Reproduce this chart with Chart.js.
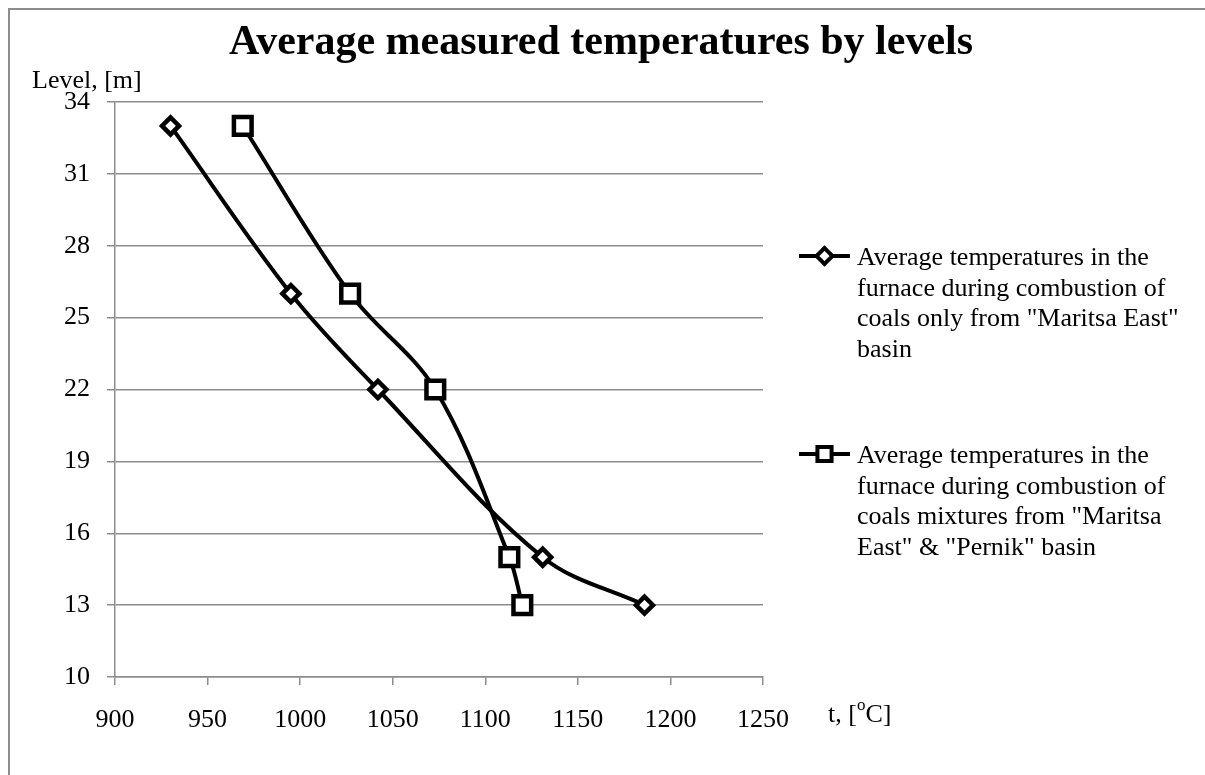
<!DOCTYPE html>
<html>
<head>
<meta charset="utf-8">
<title>Average measured temperatures by levels</title>
<script src="https://cdn.jsdelivr.net/npm/chart.js@4/dist/chart.umd.min.js"></script>
<style>
  html, body { margin: 0; padding: 0; background: #fff; overflow: hidden; }
  #wrap { position: relative; width: 1205px; height: 775px; }
</style>
</head>
<body>
<div id="wrap"><canvas id="tempChart"></canvas></div>
<script>
// Livelli (m) e temperature medie (°C)
const levels = [33, 26, 22, 15, 13];
const tempMaritsa = [930, 995, 1042, 1131, 1186];
const tempMixture = [969, 1027, 1073, 1113, 1120];

const xTicks = [900, 950, 1000, 1050, 1100, 1150, 1200, 1250];
const yTicks = [10, 13, 16, 19, 22, 25, 28, 31, 34];

const chartTitle = 'Average measured temperatures by levels';
const yTitle = 'Level, [m]';
const legendMaritsa = ['Average temperatures in the', 'furnace during combustion of', 'coals only from "Maritsa East"', 'basin'];
const legendMixture = ['Average temperatures in the', 'furnace during combustion of', 'coals mixtures from "Maritsa', 'East" & "Pernik" basin'];

const serif = "'Liberation Serif', 'Times New Roman', serif";
const gridColor = '#8c8c8c';

function toPoints(xs, ys) {
    return xs.map((x, i) => ({ x: x, y: ys[i] }));
}

// disegna un marker come fa Chart.js, con ripiego manuale
function marker(ctx, style, r, bw, x, y) {
    ctx.save();
    ctx.fillStyle = '#fff';
    ctx.strokeStyle = '#000';
    ctx.lineWidth = bw;
    if (Chart.helpers && Chart.helpers.drawPoint) {
        Chart.helpers.drawPoint(ctx, { pointStyle: style, radius: r, rotation: 0, borderWidth: bw }, x, y);
    } else {
        ctx.beginPath();
        if (style === 'rect') {
            const s = r * Math.SQRT1_2;
            ctx.rect(x - s, y - s, 2 * s, 2 * s);
        } else {
            ctx.moveTo(x - r, y); ctx.lineTo(x, y - r); ctx.lineTo(x + r, y); ctx.lineTo(x, y + r); ctx.closePath();
        }
        ctx.fill(); ctx.stroke();
    }
    ctx.restore();
}

const decorations = {
    id: 'decorations',
    beforeDraw(chart) {
        const ctx = chart.ctx;
        ctx.save();
        ctx.fillStyle = '#fff';
        ctx.fillRect(0, 0, chart.width, chart.height);
        ctx.strokeStyle = '#8c8c8c';
        ctx.lineWidth = 2;
        ctx.beginPath();
        ctx.moveTo(9, chart.height);
        ctx.lineTo(9, 9);
        ctx.lineTo(chart.width, 9);
        ctx.stroke();
        ctx.restore();
    },
    afterDraw(chart) {
        const ctx = chart.ctx;
        ctx.save();
        ctx.fillStyle = '#000';

        // titolo
        ctx.font = 'bold 42px ' + serif;
        ctx.textAlign = 'center';
        ctx.textBaseline = 'alphabetic';
        ctx.fillText(chartTitle, 601, 54);

        // titolo asse y
        ctx.font = '26px ' + serif;
        ctx.textAlign = 'left';
        ctx.textBaseline = 'middle';
        ctx.fillText(yTitle, 32, 81);

        // titolo asse x con "o" in apice
        let x = 828;
        const part1 = 't, [';
        ctx.fillText(part1, x, 715);
        x += ctx.measureText(part1).width;
        ctx.font = '17px ' + serif;
        ctx.fillText('o', x, 706);
        x += ctx.measureText('o').width;
        ctx.font = '26px ' + serif;
        ctx.fillText('C]', x, 715);

        // legenda
        const items = [
            { lines: legendMaritsa, style: 'rectRot', r: 8, bw: 4, y: 256 },
            { lines: legendMixture, style: 'rect', r: 10, bw: 4, y: 454 }
        ];
        items.forEach(item => {
            ctx.strokeStyle = '#000';
            ctx.lineWidth = 4;
            ctx.beginPath();
            ctx.moveTo(799, item.y);
            ctx.lineTo(850, item.y);
            ctx.stroke();
            marker(ctx, item.style, item.r, item.bw, 824.5, item.y);
            ctx.fillStyle = '#000';
            ctx.font = '26px ' + serif;
            ctx.textAlign = 'left';
            ctx.textBaseline = 'middle';
            item.lines.forEach((line, i) => {
                ctx.fillText(line, 857, item.y + 2 + i * 30.7);
            });
        });
        ctx.restore();
    }
};

const ctx = document.getElementById('tempChart').getContext('2d');
const chart = new Chart(ctx, {
    type: 'scatter',
    data: {
        datasets: [
            {
                label: legendMaritsa.join(' '),
                data: toPoints(tempMaritsa, levels),
                showLine: true,
                borderColor: '#000',
                borderWidth: 4,
                tension: 0.35,
                pointStyle: 'rectRot',
                pointRadius: 8.5,
                pointBorderWidth: 4.5,
                pointBackgroundColor: '#fff',
                pointBorderColor: '#000'
            },
            {
                label: legendMixture.join(' '),
                data: toPoints(tempMixture, levels),
                showLine: true,
                borderColor: '#000',
                borderWidth: 4,
                tension: 0.35,
                pointStyle: 'rect',
                pointRadius: 12.5,
                pointBorderWidth: 4.5,
                pointBackgroundColor: '#fff',
                pointBorderColor: '#000'
            }
        ]
    },
    options: {
        responsive: true,
        maintainAspectRatio: false,
        animation: false,
        layout: { padding: { left: 0, top: 102, right: 442, bottom: 0 } },
        plugins: {
            legend: { display: false },
            title: { display: false },
            tooltip: { enabled: false }
        },
        scales: {
            x: {
                type: 'linear',
                min: xTicks[0],
                max: xTicks[xTicks.length - 1],
                afterBuildTicks: axis => { axis.ticks = xTicks.map(v => ({ value: v })); },
                afterFit: axis => { axis.height = 98; },
                grid: { drawOnChartArea: false, drawTicks: true, tickLength: 8, color: gridColor, lineWidth: 1.5 },
                border: { display: true, color: gridColor, width: 1.5 },
                ticks: { color: '#000', padding: 20, font: { family: serif, size: 26 }, maxRotation: 0, callback: v => String(v) }
            },
            y: {
                type: 'linear',
                min: yTicks[0],
                max: yTicks[yTicks.length - 1],
                afterBuildTicks: axis => { axis.ticks = yTicks.map(v => ({ value: v })); },
                afterFit: axis => { axis.width = 115; },
                grid: { drawOnChartArea: true, drawTicks: true, tickLength: 8, color: gridColor, lineWidth: 1.5 },
                border: { display: true, color: gridColor, width: 1.5 },
                ticks: { color: '#000', padding: 17, font: { family: serif, size: 26 }, callback: v => String(v) }
            }
        }
    },
    plugins: [decorations]
});
</script>
</body>
</html>
